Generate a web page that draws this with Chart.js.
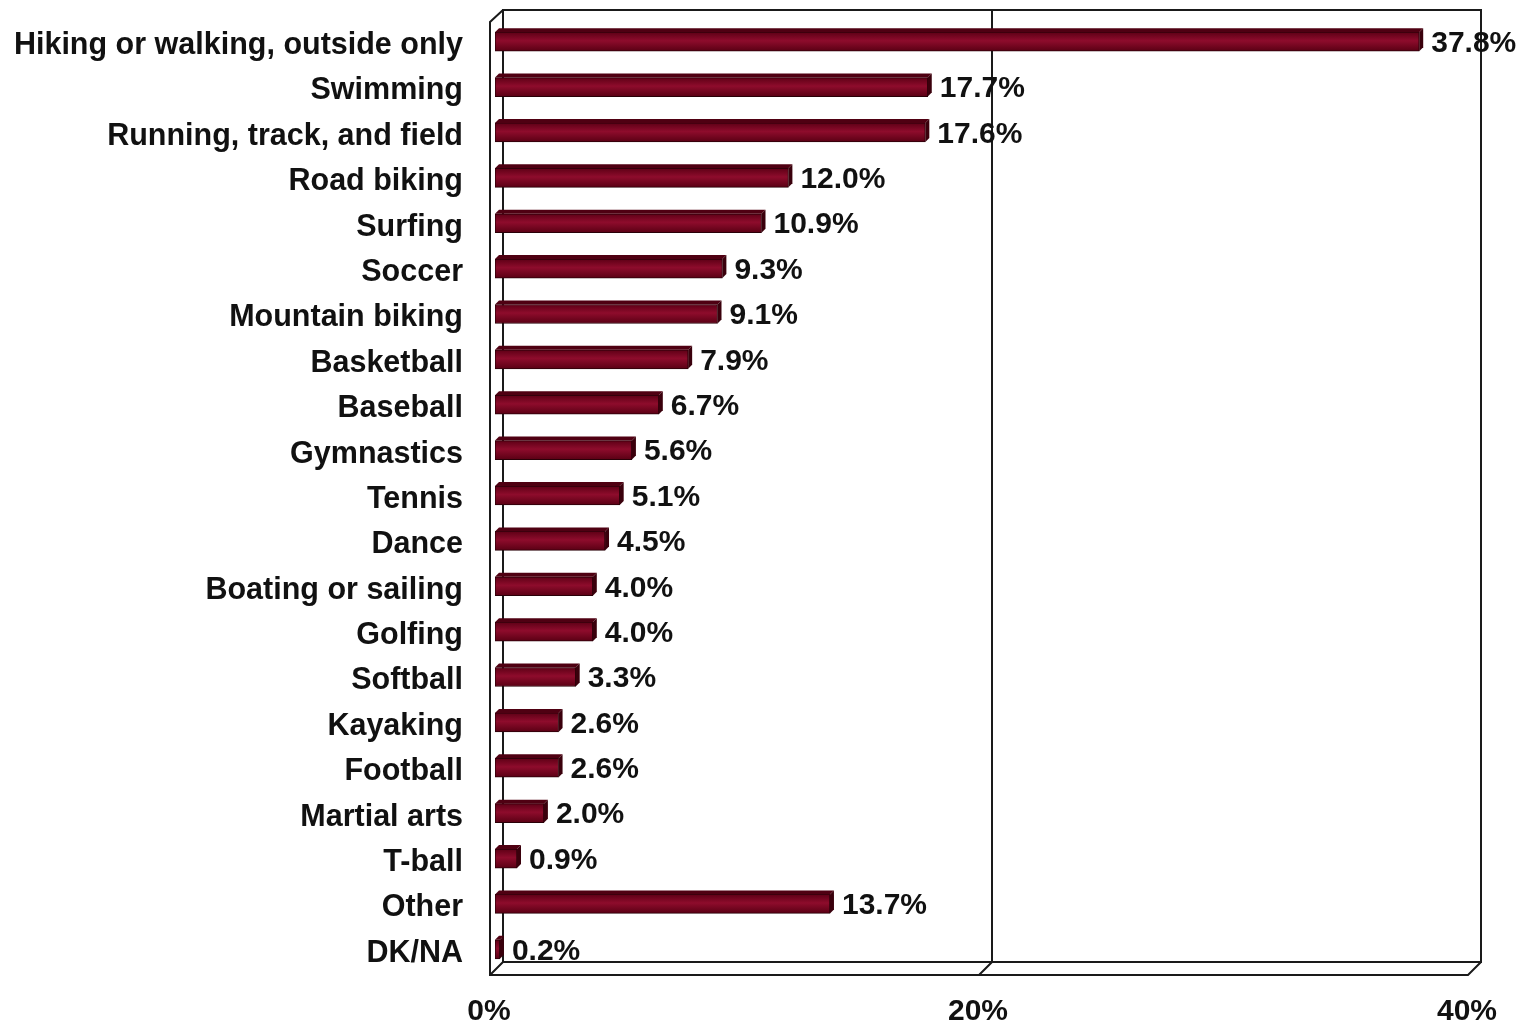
<!DOCTYPE html>
<html>
<head>
<meta charset="utf-8">
<script src="https://cdn.jsdelivr.net/npm/chart.js@4.4.0/dist/chart.umd.min.js"></script>
<style>
  html, body { margin: 0; padding: 0; background: #fff; }
  #wrap { width: 1535px; height: 1026px; }
</style>
</head>
<body>
<div id="wrap"><canvas id="chartSports"></canvas></div>
<script>
const categories = [
  "Hiking or walking, outside only", "Swimming", "Running, track, and field",
  "Road biking", "Surfing", "Soccer", "Mountain biking", "Basketball",
  "Baseball", "Gymnastics", "Tennis", "Dance", "Boating or sailing",
  "Golfing", "Softball", "Kayaking", "Football", "Martial arts", "T-ball",
  "Other", "DK/NA"
];
const percents = [37.8, 17.7, 17.6, 12.0, 10.9, 9.3, 9.1, 7.9, 6.7, 5.6, 5.1,
  4.5, 4.0, 4.0, 3.3, 2.6, 2.6, 2.0, 0.9, 13.7, 0.2];
const tickValues = [0, 20, 40];

const FONT = "'Liberation Sans', Arial, sans-serif";
const LINE = "#1a1a1a";
const BAR_H = 19;

// back wall / floor outline, excel-style 3d frame
const framePlugin = {
  id: "frame",
  beforeDatasetsDraw(chart) {
    const ctx = chart.ctx;
    const xs = chart.scales.x;
    const area = chart.chartArea;
    const x0 = xs.getPixelForValue(0);
    const x40 = xs.getPixelForValue(40);
    const x20 = xs.getPixelForValue(20);
    const d = 13;
    const bTop = area.top - 9;
    const bBot = area.bottom - 10;
    ctx.save();
    ctx.strokeStyle = LINE;
    ctx.lineWidth = 2;
    ctx.beginPath();
    // back wall
    ctx.rect(x0 + 8, bTop, x40 - x0, bBot - bTop);
    // 20% gridline on wall and floor
    ctx.moveTo(x20 + 8, bTop);
    ctx.lineTo(x20 + 8, bBot);
    ctx.lineTo(x20 - 5, bBot + d);
    // floor front edge + side
    ctx.moveTo(x0 + 8, bTop);
    ctx.lineTo(x0 - 5, bTop + 12);
    ctx.lineTo(x0 - 5, bBot + d);
    ctx.lineTo(x40 - 5, bBot + d);
    ctx.lineTo(x40 + 8, bBot);
    ctx.moveTo(x0 - 5, bBot + d);
    ctx.lineTo(x0 + 8, bBot);
    ctx.stroke();
    ctx.restore();
  },
  afterDatasetsDraw(chart) {
    const ctx = chart.ctx;
    const meta = chart.getDatasetMeta(0);
    const d = 4;
    ctx.save();
    meta.data.forEach((bar, i) => {
      const h = bar.height;
      const top = bar.y - h / 2;
      const bot = bar.y + h / 2;
      // top face
      ctx.fillStyle = "#4f0012";
      ctx.beginPath();
      ctx.moveTo(bar.base, top);
      ctx.lineTo(bar.base + d, top - d);
      ctx.lineTo(bar.x + d, top - d);
      ctx.lineTo(bar.x, top);
      ctx.closePath();
      ctx.fill();
      // end cap
      ctx.fillStyle = "#3a000c";
      ctx.beginPath();
      ctx.moveTo(bar.x, top);
      ctx.lineTo(bar.x + d, top - d);
      ctx.lineTo(bar.x + d, bot - d);
      ctx.lineTo(bar.x, bot);
      ctx.closePath();
      ctx.fill();
      // value label
      ctx.fillStyle = "#111";
      ctx.font = "bold 30px " + FONT;
      ctx.textAlign = "left";
      ctx.textBaseline = "middle";
      ctx.fillText(percents[i].toFixed(1) + "%", bar.x + d + 8, bar.y + 2);
    });
    ctx.restore();
  }
};

const ctx2D = document.getElementById("chartSports").getContext("2d");
new Chart(ctx2D, {
  type: "bar",
  data: {
    labels: categories,
    datasets: [{
      data: percents,
      backgroundColor: (c) => {
        const ys = c.chart.scales.y;
        if (!ys || !c.chart.chartArea) return "#7a0a22";
        const y = ys.getPixelForValue(c.dataIndex);
        if (!Number.isFinite(y)) return "#7a0a22";
        const g = c.chart.ctx.createLinearGradient(0, y - BAR_H / 2, 0, y + BAR_H / 2);
        g.addColorStop(0, "#5e0016");
        g.addColorStop(0.45, "#8e0c2c");
        g.addColorStop(1, "#5a0014");
        return g;
      },
      borderColor: "#2a0008",
      borderWidth: 1,
      borderSkipped: false,
      barThickness: BAR_H
    }]
  },
  options: {
    indexAxis: "y",
    responsive: true,
    maintainAspectRatio: false,
    animation: false,
    layout: { padding: { top: 19, right: 62, left: 0, bottom: 0 } },
    plugins: { legend: { display: false }, tooltip: { enabled: false } },
    scales: {
      x: {
        min: 0,
        max: 40,
        afterBuildTicks: (s) => { s.ticks = tickValues.map((v) => ({ value: v })); },
        afterFit: (s) => { s.height = 54; s.paddingLeft = 0; s.paddingRight = 0; },
        grid: { display: false, drawTicks: false },
        border: { display: false },
        ticks: {
          padding: 25,
          labelOffset: -6,
          color: "#111",
          font: { family: FONT, size: 30, weight: "bold", lineHeight: 1.0 },
          callback: (v) => v + "%"
        }
      },
      y: {
        afterFit: (s) => { s.width = 495; s.paddingTop = 0; s.paddingBottom = 0; },
        grid: { display: false, drawTicks: false },
        border: { display: false },
        ticks: {
          padding: 32,
          labelOffset: 4,
          color: "#111",
          font: { family: FONT, size: 30.5, weight: "bold" }
        }
      }
    }
  },
  plugins: [framePlugin]
});
</script>
</body>
</html>
